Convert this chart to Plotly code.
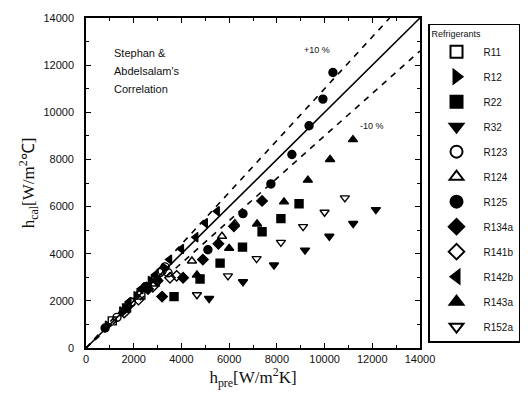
import plotly.graph_objects as go

# ---- data (W/m2K) ----
names = ["R11", "R12", "R22", "R32", "R123", "R124", "R125",
         "R134a", "R141b", "R142b", "R143a", "R152a"]
symbols = ["square-open", "triangle-right", "square", "triangle-down",
           "circle-open", "triangle-up-open", "circle", "diamond",
           "diamond-open", "triangle-left", "triangle-up", "triangle-down-open"]

R11_x = [1100, 1700, 2300, 2900]
R11_y = [1150, 1700, 2250, 2800]
R12_x = [900, 1500, 2100, 2700, 3300]
R12_y = [950, 1550, 2200, 2850, 3400]
R22_x = [8930, 8170, 7380, 6560, 5620, 4780, 3690]
R22_y = [6120, 5490, 4930, 4280, 3600, 2930, 2180]
R32_x = [12150, 11200, 10200, 9180, 7880, 6580, 5160]
R32_y = [5870, 5280, 4740, 4150, 3520, 2810, 2100]
R123_x = [1300, 1900, 2500, 3100, 3310, 3440, 3190]
R123_y = [1300, 1950, 2600, 3200, 3440, 3190, 3270]
R124_x = [2600, 3000, 4440, 5700, 6240]
R124_y = [2550, 2950, 3690, 4740, 5280]
R125_x = [10350, 9930, 9350, 8630, 7750, 6580, 5110, 2500, 1700, 800]
R125_y = [11690, 10560, 9430, 8210, 6960, 5700, 4170, 2600, 1700, 850]
R134a_x = [7380, 6200, 5550, 4900, 4070, 3190, 2600, 3000]
R134a_y = [6240, 5160, 4420, 3750, 2980, 2180, 2500, 2850]
R141b_x = [1600, 2200, 2800, 3520, 3800]
R141b_y = [1500, 2050, 2600, 2980, 3060]
R142b_x = [5500, 5000, 4600, 4000, 3500, 2900, 2300, 1800]
R142b_y = [5800, 5300, 4700, 4200, 3750, 3100, 2500, 1950]
R143a_x = [11190, 10230, 9300, 8300, 7170, 6000, 4650]
R143a_y = [8840, 8000, 7120, 6200, 5260, 4230, 3100]
R152a_x = [10850, 10000, 9100, 8170, 7150, 5950, 4650]
R152a_y = [6370, 5760, 5150, 4480, 3790, 3060, 2260]

tick_vals = [0, 2000, 4000, 6000, 8000, 10000, 12000, 14000]
tick_text = ["0", "2000", "4000", "6000", "8000", "10000", "12000", "14000"]

xs = [R11_x, R12_x, R22_x, R32_x, R123_x, R124_x, R125_x,
      R134a_x, R141b_x, R142b_x, R143a_x, R152a_x]
ys = [R11_y, R12_y, R22_y, R32_y, R123_y, R124_y, R125_y,
      R134a_y, R141b_y, R142b_y, R143a_y, R152a_y]

line_x = [0, 14000]
plus_x = [0, 14000 / 1.1]
minus_x = [0, 14000]

fig = go.Figure()

fig.add_trace(go.Scatter(x=line_x, y=line_x, mode="lines",
                         line=dict(color="black", width=1.6),
                         showlegend=False, hoverinfo="skip"))
fig.add_trace(go.Scatter(x=plus_x, y=[v * 1.1 for v in plus_x], mode="lines",
                         line=dict(color="black", width=1.6, dash="6px,6px"),
                         showlegend=False, hoverinfo="skip"))
fig.add_trace(go.Scatter(x=minus_x, y=[v * 0.9 for v in minus_x], mode="lines",
                         line=dict(color="black", width=1.6, dash="6px,6px"),
                         showlegend=False, hoverinfo="skip"))

for n, s, x, y in zip(names, symbols, xs, ys):
    fig.add_trace(go.Scatter(
        x=x, y=y, mode="markers", name=n, legendgroup=n,
        marker=dict(symbol=s, size=8, color="black",
                    line=dict(color="black", width=1.4)),
    ))

font_axis = dict(family="Liberation Sans, Arial", size=11, color="#111")

common = dict(range=[0, 14000], tickmode="array", tickvals=tick_vals, ticktext=tick_text,
              ticks="inside", ticklen=5, tickwidth=1.2, tickcolor="black",
              minor=dict(dtick=1000, ticks="inside", ticklen=3, tickcolor="black"),
              showline=True, linecolor="black", linewidth=1.6, mirror="ticks",
              showgrid=False, zeroline=False, tickfont=font_axis)

fig.update_xaxes(**common,
                 title=dict(text="h<sub>pre</sub>[W/m<sup>2</sup>K]",
                            font=dict(family="Liberation Serif, Times New Roman", size=17, color="#111"),
                            standoff=4))
fig.update_yaxes(**common, ticklabelstandoff=8,
                 title=dict(text="h<sub>cal</sub>[W/m<sup>2</sup>℃]",
                            font=dict(family="Liberation Serif, Times New Roman", size=17, color="#111"),
                            standoff=4))

note_font = dict(family="Liberation Sans, Arial", size=11, color="#111")
for txt, yy in [("Stephan &", 49), ("Abdelsalam's", 68), ("Correlation", 86)]:
    fig.add_annotation(text=txt, xref="paper", yref="paper",
                       x=(112 - 86) / 334, y=(348 - yy) / 334,
                       xanchor="left", yanchor="middle", showarrow=False, font=note_font)

fig.add_annotation(text="+10 %", x=9700, y=12660, showarrow=False,
                   font=dict(family="Liberation Sans, Arial", size=9, color="#111"))
fig.add_annotation(text="-10 %", x=12000, y=9430, showarrow=False,
                   font=dict(family="Liberation Sans, Arial", size=9, color="#111"))

fig.update_layout(
    width=532, height=397,
    margin=dict(l=86, r=112, t=14, b=49),
    paper_bgcolor="white", plot_bgcolor="white",
    legend=dict(x=1.024, y=0.982, xanchor="left", yanchor="top",
                bordercolor="black", borderwidth=1.5,
                title=dict(text="Refrigerants      ", font=dict(family="Liberation Sans, Arial", size=9, color="#111")),
                font=dict(family="Liberation Sans, Arial", size=10, color="#111"),
                tracegroupgap=6, itemsizing="constant", itemwidth=44,
                traceorder="grouped"),
)

fig.write_html("out.html")
